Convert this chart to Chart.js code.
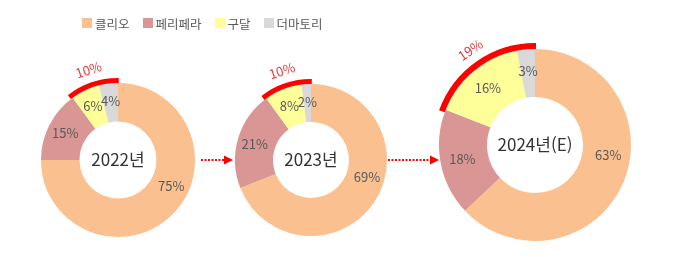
<!DOCTYPE html>
<html lang="ko">
<head>
  <meta charset="UTF-8">
  <title>브랜드 비중</title>
  <script src="https://cdn.jsdelivr.net/npm/chart.js"></script>
  <style>
    html, body { margin: 0; padding: 0; background: #fff; }
    body { width: 680px; height: 257px; position: relative; overflow: hidden; font-family: "Noto Sans CJK KR", "Noto Sans", sans-serif; }
    .box { position: absolute; }
    #legend { position: absolute; left: 82px; top: 14px; display: flex; align-items: center; font-size: 12.5px; color: #595959; }
    #legend span.sw { display: inline-block; width: 10px; height: 10px; margin-right: 3px; }
    #legend span.item { display: flex; align-items: center; margin-right: 13px; height: 18px; }
    #arrows { position: absolute; left: 0; top: 0; }
  </style>
</head>
<body>
  <canvas id="arrows" width="680" height="257"></canvas>
  <div id="legend"></div>
  <div class="box" style="left:11px;top:53px;width:214px;height:194px;"><canvas id="c2022"></canvas></div>
  <div class="box" style="left:205px;top:54px;width:212px;height:192px;"><canvas id="c2023"></canvas></div>
  <div class="box" style="left:409px;top:19px;width:252px;height:232px;"><canvas id="c2024"></canvas></div>

  <script>
    // 데이터
    const brands = ['클리오', '페리페라', '구달', '더마토리'];
    const colors = ['#FAC090', '#D99694', '#FFFF99', '#D9D9D9'];
    const years = ['2022년', '2023년', '2024년(E)'];
    const share2022 = [75, 15, 6, 4];
    const share2023 = [69, 21, 8, 2];
    const share2024 = [63, 18, 16, 3];

    // 범례
    const legend = document.getElementById('legend');
    brands.forEach((b, i) => {
      legend.innerHTML += `<span class="item"><span class="sw" style="background:${colors[i]}"></span>${b}</span>`;
    });

    // 조각 라벨 + 가운데 글자 + 빨간 강조 호
    const donutDeco = {
      id: 'donutDeco',
      afterDatasetsDraw(chart) {
        const ctx = chart.ctx;
        const arcs = chart.getDatasetMeta(0).data;
        const values = chart.data.datasets[0].data;
        const cx = arcs[0].x, cy = arcs[0].y;
        const R = arcs[0].outerRadius;

        ctx.save();
        ctx.textAlign = 'center';
        ctx.textBaseline = 'middle';

        // 조각 라벨 (큰 조각은 엑셀처럼 조금 위쪽에)
        ctx.font = '13px "Noto Sans CJK KR", "Noto Sans", sans-serif';
        ctx.fillStyle = '#595959';
        arcs.forEach((a, i) => {
          const f = i === 0 ? 0.43 : 0.5;
          const mid = a.startAngle + (a.endAngle - a.startAngle) * f;
          const r = R * 0.77;
          ctx.fillText(values[i] + '%', cx + Math.cos(mid) * r, cy + Math.sin(mid) * r);
        });

        // 가운데 연도
        ctx.font = '17px "Noto Sans CJK KR", "Noto Sans", sans-serif';
        ctx.fillStyle = '#333333';
        ctx.fillText(chart.options.plugins.donutDeco.title, cx, cy);

        // 구달 + 더마토리 강조 호
        const s = arcs[2].startAngle, e = arcs[3].endAngle;
        ctx.strokeStyle = '#FF0000';
        ctx.lineWidth = R > 90 ? 6 : 5;
        ctx.lineCap = 'butt';
        ctx.beginPath();
        ctx.arc(cx, cy, R + ctx.lineWidth / 2, s - 0.03, e + 0.01);
        ctx.stroke();

        const mid = (s + e) / 2;
        const lr = R + (R > 90 ? 19 : 18);
        ctx.translate(cx + Math.cos(mid) * lr, cy + Math.sin(mid) * lr);
        ctx.rotate(mid + Math.PI / 2);
        ctx.font = '13px "Noto Sans CJK KR", "Noto Sans", sans-serif';
        ctx.fillStyle = '#E8393A';
        ctx.fillText((values[2] + values[3]) + '%', 0, 0);
        ctx.restore();
      }
    };

    const makeDonut = (id, values, title, pad) => {
      return new Chart(document.getElementById(id), {
        type: 'doughnut',
        data: {
          labels: brands,
          datasets: [{ data: values, backgroundColor: colors, borderWidth: 0 }]
        },
        options: {
          responsive: true,
          maintainAspectRatio: false,
          animation: false,
          cutout: '50%',
          layout: { padding: pad },
          plugins: {
            legend: { display: false },
            tooltip: { enabled: false },
            donutDeco: { title: title }
          }
        },
        plugins: [donutDeco]
      });
    };

    makeDonut('c2022', share2022, years[0], { top: 30, left: 30, right: 30, bottom: 10 });
    makeDonut('c2023', share2023, years[1], { top: 30, left: 30, right: 30, bottom: 10 });
    makeDonut('c2024', share2024, years[2], { top: 30, left: 30, right: 30, bottom: 10 });

    // 점선 화살표
    const actx = document.getElementById('arrows').getContext('2d');
    const drawArrow = (x1, x2, y) => {
      actx.strokeStyle = '#FF0000';
      actx.fillStyle = '#FF0000';
      actx.lineWidth = 2;
      actx.setLineDash([2, 1.5]);
      actx.beginPath();
      actx.moveTo(x1, y);
      actx.lineTo(x2 - 8, y);
      actx.stroke();
      actx.setLineDash([]);
      actx.beginPath();
      actx.moveTo(x2 - 9, y - 4.5);
      actx.lineTo(x2, y);
      actx.lineTo(x2 - 9, y + 4.5);
      actx.closePath();
      actx.fill();
    };
    drawArrow(201, 233, 160);
    drawArrow(388, 439, 160);
  </script>
</body>
</html>
